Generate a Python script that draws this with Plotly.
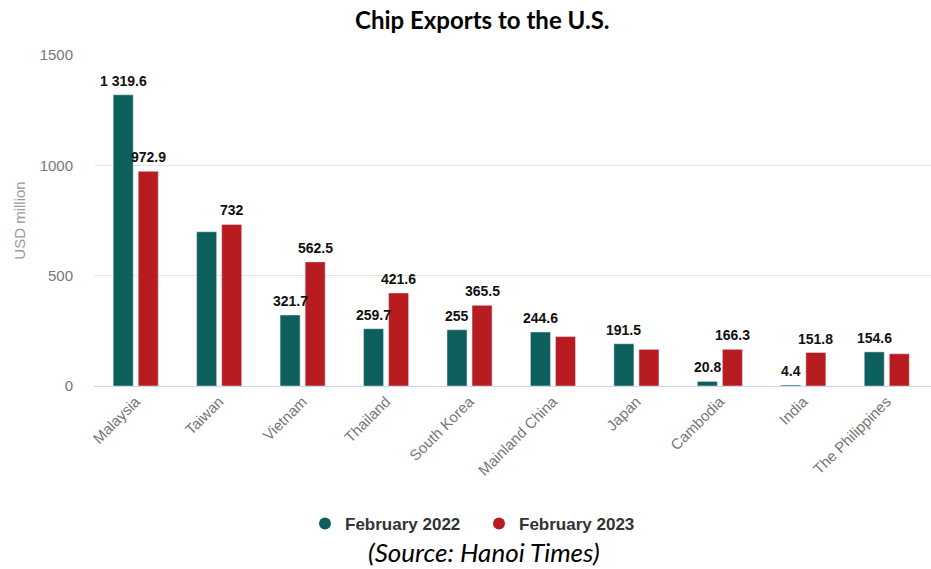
import plotly.graph_objects as go

countries = ["Malaysia", "Taiwan", "Vietnam", "Thailand", "South Korea",
             "Mainland China", "Japan", "Cambodia", "India", "The Philippines"]
feb2022 = [1319.6, 699, 321.7, 259.7, 255, 244.6, 191.5, 20.8, 4.4, 154.6]
feb2023 = [972.9, 732, 562.5, 421.6, 365.5, 224, 166, 166.3, 151.8, 146]
show2022 = [True, False, True, True, True, True, True, True, True, True]
show2023 = [True, True, True, True, True, False, False, True, True, False]

TEAL = "#0d5f5c"
RED = "#b81c20"

W, H = 931, 569
ML, MR, MT, MB = 94, 0, 55, 183
PW = W - ML - MR
PH = H - MT - MB


def fmt(v):
    s = f"{v:,.1f}".replace(",", " ")
    if s.endswith(".0"):
        s = s[:-2]
    return s


def px_x(px):
    return (px - ML) / PW


def px_y(py):
    return (H - MB - py) / PH


fig = go.Figure()
fig.add_bar(x=countries, y=feb2022, marker_color=TEAL, showlegend=False,
            name="February 2022", hoverinfo="x+y")
fig.add_bar(x=countries, y=feb2023, marker_color=RED, showlegend=False,
            name="February 2023", hoverinfo="x+y")
fig.add_scatter(x=[None], y=[None], mode="markers", name="February 2022",
                marker=dict(color=TEAL, size=15, symbol="circle"))
fig.add_scatter(x=[None], y=[None], mode="markers", name="February 2023",
                marker=dict(color=RED, size=15, symbol="circle"))

annotations = []
label_font = dict(family="Liberation Sans, Arial", size=14, color="#111")
for c, v, s in zip(countries, feb2022, show2022):
    if s:
        annotations.append(dict(x=c, y=v, xref="x", yref="y", text="<b>%s</b>" % fmt(v),
                                showarrow=False, xanchor="center", yanchor="bottom",
                                xshift=-12.5, yshift=4, font=label_font))
for c, v, s in zip(countries, feb2023, show2023):
    if s:
        annotations.append(dict(x=c, y=v, xref="x", yref="y", text="<b>%s</b>" % fmt(v),
                                showarrow=False, xanchor="center", yanchor="bottom",
                                xshift=12.5, yshift=4, font=label_font))

annotations.append(dict(text="<b>Chip Exports to the U.S.</b>", xref="paper", yref="paper",
                        x=px_x(482), y=px_y(19), xanchor="center", yanchor="middle",
                        showarrow=False,
                        font=dict(family="Lato, Open Sans", size=24, color="#000")))
annotations.append(dict(text="<i>(Source: Hanoi Times)</i>", xref="paper", yref="paper",
                        x=px_x(484), y=px_y(552), xanchor="center", yanchor="middle",
                        showarrow=False,
                        font=dict(family="Lato, Open Sans", size=26, color="#000")))

fig.update_layout(
    width=W, height=H,
    margin=dict(l=ML, r=MR, t=MT, b=MB, pad=0, autoexpand=False),
    plot_bgcolor="white", paper_bgcolor="white",
    barmode="group", bargap=0.4, bargroupgap=0.2,
    font=dict(family="Liberation Sans, Arial", color="#666"),
    legend=dict(orientation="h", x=px_x(305), xanchor="left", y=px_y(524), yanchor="middle",
                font=dict(size=17, color="#333", family="Liberation Sans, Arial", weight="bold"),
                itemsizing="constant", bgcolor="rgba(0,0,0,0)",
                entrywidth=129, entrywidthmode="pixels"),
    annotations=annotations,
)

fig.update_yaxes(range=[0, 1500], tickvals=[0, 500, 1000, 1500],
                 gridcolor="#e6e6e6", gridwidth=1, zeroline=False,
                 tickfont=dict(size=15, color="#777"), ticklabelstandoff=20,
                 title=dict(text="USD million", font=dict(size=15, color="#999"), standoff=10))
fig.update_xaxes(range=[-0.5, 9.53], tickangle=-45, tickfont=dict(size=15, color="#777"),
                 showline=True, linecolor="#ccd6eb", linewidth=1, ticks="")

fig.write_html("out.html")
